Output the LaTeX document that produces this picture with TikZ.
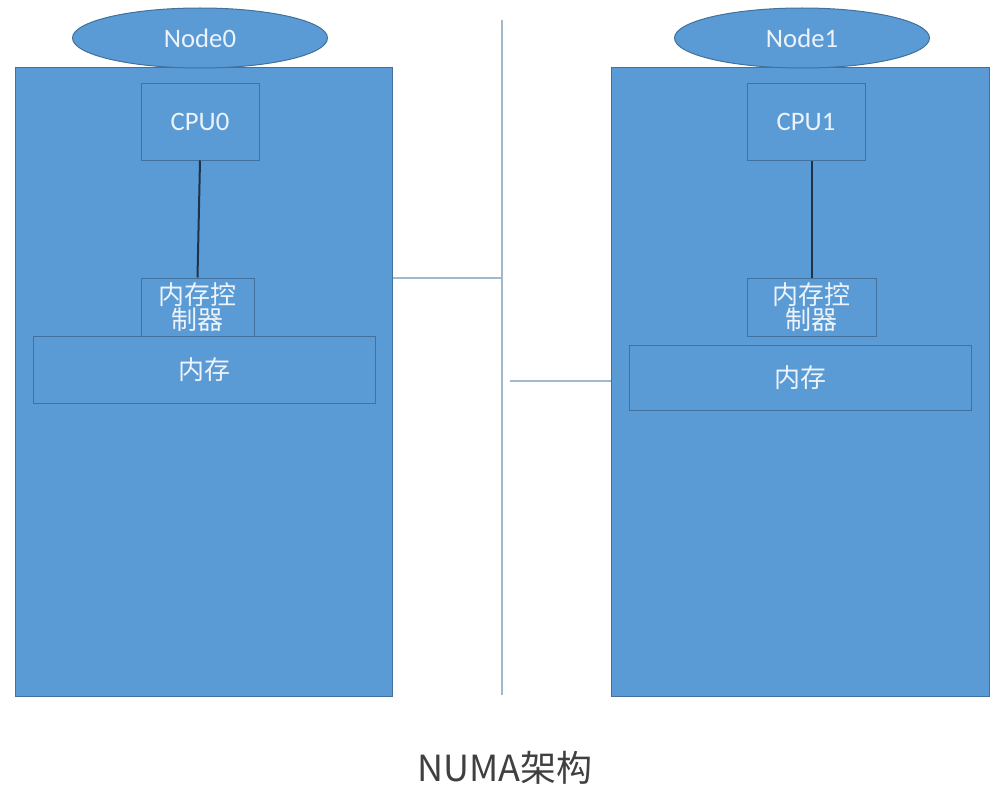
\documentclass[tikz,border=0pt]{standalone}
\usepackage{fontspec}
\setmainfont{Carlito}
\newfontfamily\cjk{Noto Sans CJK SC}
\usetikzlibrary{shapes.geometric}

\definecolor{numafill}{RGB}{91,155,213}
\definecolor{numaedge}{RGB}{65,113,156}
\definecolor{numatext}{RGB}{236,243,250}
\definecolor{linkline}{RGB}{160,185,205}
\definecolor{busline}{RGB}{30,50,75}

\tikzset{every picture/.style={line width=0.75pt}}
\tikzset{
  nodebox/.style={draw=numaedge, fill=numafill, text=numatext, inner sep=0pt, line width=0.75pt},
  headell/.style={nodebox, ellipse, minimum width=191.25pt, minimum height=45pt, font=\fontsize{20}{20}\selectfont},
  partlbl/.style={font=\fontsize{20}{20}\selectfont},
  cjklbl/.style={font=\cjk\fontsize{19.5}{19}\selectfont, align=center}
}

\begin{document}
\begin{tikzpicture}[x=0.75pt, y=0.75pt, yscale=-1,xscale=1]

    \useasboundingbox (0,0) rectangle (998,792);

    % Node 0
    \node [nodebox, minimum width=282.75pt, minimum height=471pt] (box0) at (203.5,382) {};
    \node [headell] (head0) at (200,38) {Node0};
    \node [nodebox, partlbl, minimum width=88.5pt, minimum height=57.75pt] (cpu0) at (200,121.5) {CPU0};
    \node [nodebox, cjklbl, minimum width=84.75pt, minimum height=43.5pt] (mc0) at (197.5,307) {内存控\\制器};
    \node [nodebox, cjklbl, minimum width=256.5pt, minimum height=50.25pt] (mem0) at (204,369.5) {内存};

    % Node 1
    \node [nodebox, minimum width=283.5pt, minimum height=471pt] (box1) at (800,382) {};
    \node [headell] (head1) at (802,38) {Node1};
    \node [nodebox, partlbl, minimum width=88.5pt, minimum height=57.75pt] (cpu1) at (806,121.5) {CPU1};
    \node [nodebox, cjklbl, minimum width=96.75pt, minimum height=43.5pt] (mc1) at (811.5,307) {内存控\\制器};
    \node [nodebox, cjklbl, minimum width=256.5pt, minimum height=48.75pt] (mem1) at (800,377.5) {内存};

    % Line CPU - memory controller
    \draw [busline, line width=1.5pt] (cpu0.south) -- (mc0.north);
    \draw [busline, line width=1.5pt] (cpu1.south -| mc1.north) -- (mc1.north);

    % Interconnect
    \coordinate (bustop) at (502,20);
    \coordinate (busbot) at (502,695);
    \coordinate (link1) at (510,381);
    \draw [linkline, line width=1.2pt] (bustop) -- (busbot);
    \draw [linkline, line width=1.2pt] (box0.east |- 0,278) -- (bustop |- 0,278);
    \draw [linkline, line width=1.2pt] (link1) -- (box1.west |- link1);

    % Label: caption
    \node [text={rgb,255:red,64;green,64;blue,64}, font=\cjk\fontsize{27}{27}\selectfont] (title) at (505,768) {NUMA架构};

\end{tikzpicture}
\end{document}
